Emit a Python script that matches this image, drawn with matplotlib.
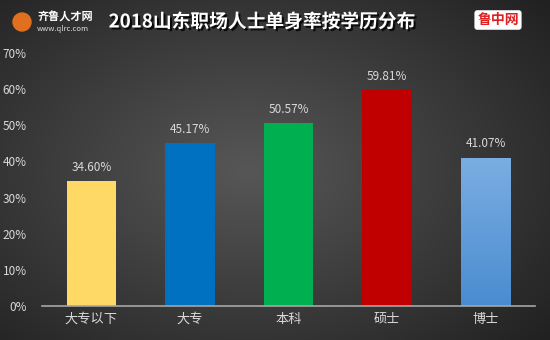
import numpy as np
import matplotlib
matplotlib.use("Agg")
import matplotlib.pyplot as plt
import matplotlib.patheffects as pe

plt.rcParams['font.family'] = ['Noto Sans CJK SC', 'DejaVu Sans']

categories = ['大专以下', '大专', '本科', '硕士', '博士']
values = [34.60, 45.17, 50.57, 59.81, 41.07]
value_labels = ['34.60%', '45.17%', '50.57%', '59.81%', '41.07%']
colors = ['#FFD966', '#0070C0', '#00B050', '#C00000', '#62A0DE']
yticks = [0, 10, 20, 30, 40, 50, 60, 70]
ytick_labels = ['0%', '10%', '20%', '30%', '40%', '50%', '60%', '70%']
title = '2018山东职场人士单身率按学历分布'

W, H = 550, 340
fig = plt.figure(figsize=(W / 100, H / 100), dpi=100)

# background radial gradient
bg = fig.add_axes([0, 0, 1, 1])
yy, xx = np.mgrid[0:H, 0:W]
cx, cy = 0.45 * W, 0.5 * H
r = np.sqrt(((xx - cx) / (0.75 * W)) ** 2 + ((yy - cy) / (0.8 * H)) ** 2)
val = np.clip(0.34 - 0.22 * r, 0.12, 0.34)
img = np.dstack([val, val, val])
bg.imshow(img, extent=[0, W, H, 0], aspect='auto', interpolation='bilinear')
bg.set_xlim(0, W)
bg.set_ylim(H, 0)
bg.axis('off')

# header text
bg.text(262, 22, title, color='white', fontsize=13.5, fontweight='bold',
        ha='center', va='center',
        path_effects=[pe.withSimplePatchShadow(offset=(1.5, -1.5), shadow_rgbFace='black', alpha=0.8)])
bg.text(38, 17, '齐鲁人才网', color='white', fontsize=8, fontweight='bold', ha='left', va='center')
bg.text(37, 29, 'www.qlrc.com', color='#dddddd', fontsize=5.5, ha='left', va='center')
bg.add_patch(plt.Circle((22, 22), 9, color='#E07020'))
bg.text(498, 20, '鲁中网', color='#E02020', fontsize=10, fontweight='bold', ha='center', va='center',
        bbox=dict(boxstyle='round,pad=0.2', fc='white', ec='none'))

# main axes: x 42..535 px, y baseline 306, 70% at 53
left, right = 42 / W, 535 / W
bottom = (H - 306) / H
top = (H - 53) / H
ax = fig.add_axes([left, bottom, right - left, top - bottom])
ax.patch.set_alpha(0)
x = np.arange(len(categories))
bars = ax.bar(x, values, width=0.5, color=colors, zorder=3)
# gradient fill for the last bar
last = bars[-1]
grad = np.linspace(0, 1, 100).reshape(-1, 1)
from matplotlib.colors import LinearSegmentedColormap
cmap = LinearSegmentedColormap.from_list('lb', ['#4A8CD0', '#7AAEE2'])
bx, bw, bh = last.get_x(), last.get_width(), last.get_height()
im = ax.imshow(grad, extent=[bx, bx + bw, 0, bh], origin='lower', cmap=cmap,
               aspect='auto', zorder=4)
im.set_clip_path(last)
ax.set_xlim(-0.5, len(categories) - 0.5)
ax.set_ylim(0, 70)
ax.set_yticks(yticks)
ax.set_yticklabels(ytick_labels)
ax.set_xticks(x)
ax.set_xticklabels(categories)
for s in ['top', 'right', 'left']:
    ax.spines[s].set_visible(False)
ax.spines['bottom'].set_color('#a6a6a6')
ax.spines['bottom'].set_linewidth(1.2)
ax.spines['bottom'].set_zorder(5)
ax.tick_params(axis='both', length=0, colors='#d9d9d9')
ax.tick_params(axis='y', labelsize=8.5, pad=11)
ax.tick_params(axis='x', labelsize=9.5, pad=5)
for xi, v, lab in zip(x, values, value_labels):
    ax.text(xi, v + 2.0, lab, ha='center', va='bottom', color='#d9d9d9', fontsize=8.5)

fig.savefig('out.png', dpi=100)
